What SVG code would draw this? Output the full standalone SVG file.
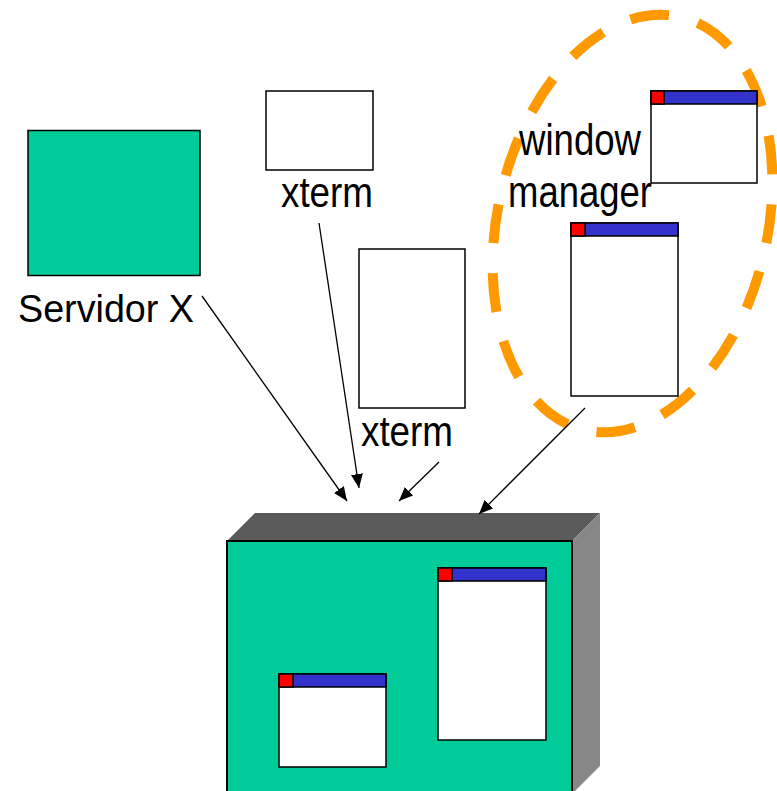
<svg xmlns="http://www.w3.org/2000/svg" width="777" height="791" viewBox="0 0 777 791">
  <style>
    .lbl { font-family: "Liberation Sans", Arial, sans-serif; fill: #000; }
    .win { fill: #fff; stroke: #000; stroke-width: 1.5; }
    .bar { fill: #3333cc; stroke: #000; stroke-width: 1.5; }
    .btn { fill: #ff0000; stroke: #000; stroke-width: 1.5; }
    .conn { stroke: #000; stroke-width: 1.3; fill: none; marker-end: url(#arrow); }
  </style>
  <defs>
    <marker id="arrow" viewBox="0 0 14 12" refX="14" refY="6" markerWidth="14" markerHeight="12" markerUnits="userSpaceOnUse" orient="auto">
      <path d="M0,0 L14,6 L0,12 Z" fill="#000"/>
    </marker>
  </defs>
  <rect width="777" height="791" fill="#fff"/>

  <!-- X server -->
  <g id="servidor">
    <rect x="28" y="130.5" width="172" height="145" fill="#00cc99" stroke="#000" stroke-width="1.5"/>
    <text class="lbl" x="18" y="322" font-size="38" textLength="176" lengthAdjust="spacingAndGlyphs">Servidor X</text>
  </g>

  <!-- xterm (small) -->
  <g id="xterm1">
    <rect class="win" x="266" y="91" width="107" height="79"/>
    <text class="lbl" x="281" y="207" font-size="42" textLength="92" lengthAdjust="spacingAndGlyphs">xterm</text>
  </g>

  <!-- xterm (tall) -->
  <g id="xterm2">
    <rect class="win" x="359" y="249" width="106" height="159"/>
    <text class="lbl" x="361" y="446" font-size="42" textLength="92" lengthAdjust="spacingAndGlyphs">xterm</text>
  </g>

  <!-- window manager -->
  <g id="wm">
    <ellipse cx="632.5" cy="223.5" rx="135" ry="212" transform="rotate(13 632.5 223.5)" fill="none" stroke="#ff9900" stroke-width="10" stroke-dasharray="39 30" stroke-dashoffset="-18"/>
    <rect class="win" x="651" y="91" width="106" height="92"/>
    <rect class="bar" x="651" y="91" width="106" height="13"/>
    <rect class="btn" x="651" y="91" width="13" height="13"/>
    <rect class="win" x="571" y="223" width="107" height="173"/>
    <rect class="bar" x="571" y="223" width="107" height="13"/>
    <rect class="btn" x="571" y="223" width="14" height="13"/>
    <text class="lbl" x="519" y="155" font-size="44" textLength="122" lengthAdjust="spacingAndGlyphs">window</text>
    <text class="lbl" x="508" y="207" font-size="44" textLength="144" lengthAdjust="spacingAndGlyphs">manager</text>
  </g>

  <!-- display -->
  <g id="display">
    <polygon points="227,541 255,513 600,513 572,541" fill="#5a5a5a"/>
    <polygon points="572,541 600,513 600,766 572,794" fill="#878787"/>
    <rect x="227" y="541" width="345" height="260" fill="#00cc99" stroke="#000" stroke-width="2"/>
    <rect class="win" x="438" y="568" width="108" height="172"/>
    <rect class="bar" x="438" y="568" width="108" height="13"/>
    <rect class="btn" x="438" y="568" width="14" height="13"/>
    <rect class="win" x="279" y="674" width="107" height="93"/>
    <rect class="bar" x="279" y="674" width="107" height="13"/>
    <rect class="btn" x="279" y="674" width="14" height="13"/>
  </g>

  <!-- connectors -->
  <g id="connectors">
    <line class="conn" x1="202" y1="296" x2="347" y2="501"/>
    <line class="conn" x1="319" y1="223" x2="359" y2="488"/>
    <line class="conn" x1="439" y1="462" x2="399" y2="501"/>
    <line class="conn" x1="585" y1="408" x2="479" y2="514"/>
  </g>
</svg>
